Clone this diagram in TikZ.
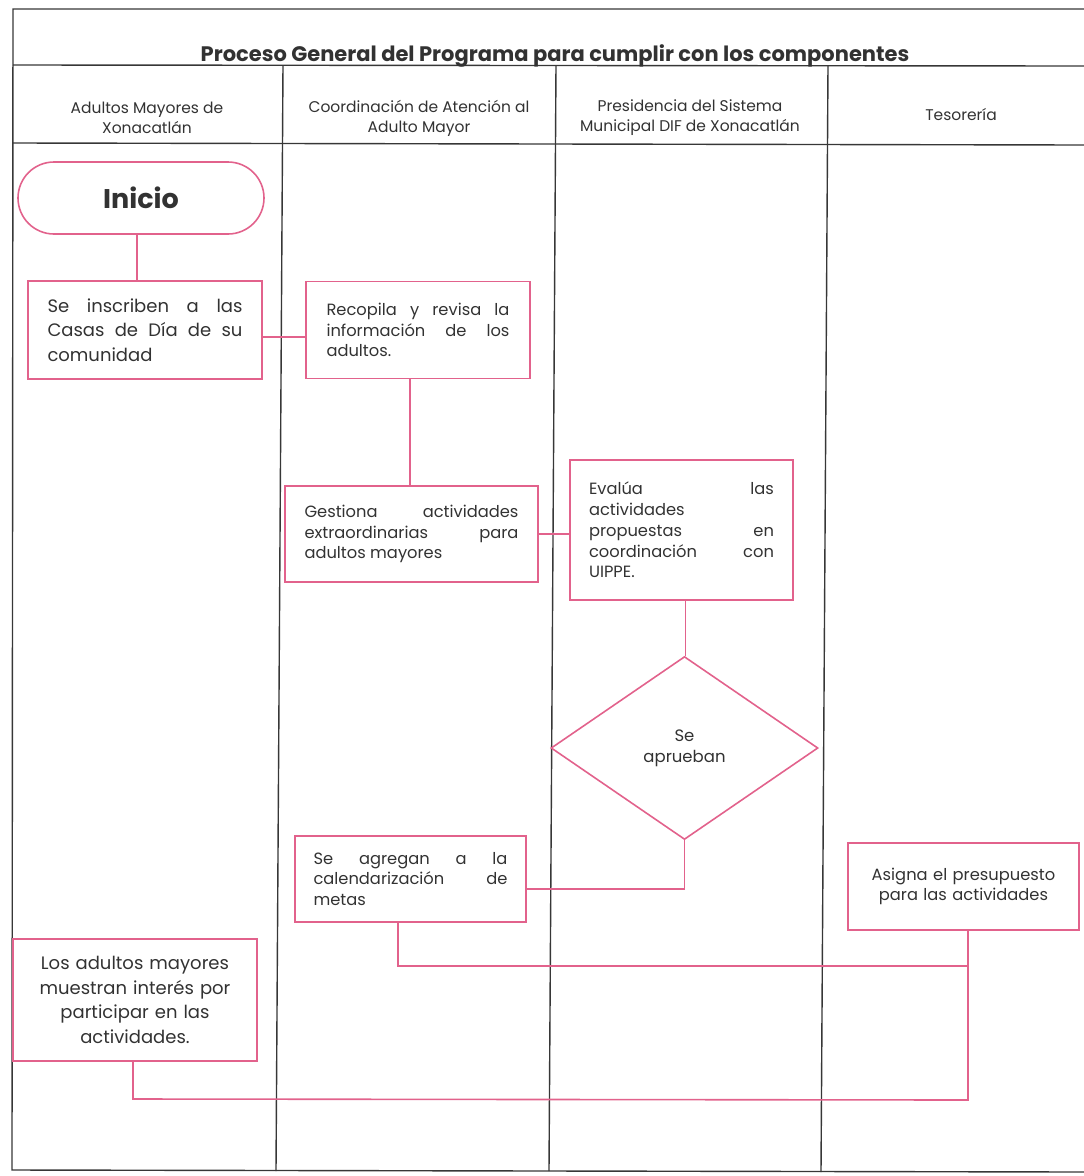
\documentclass[tikz,border=0pt]{standalone}
\usepackage{fontspec}
\setmainfont{Poppins}
\usetikzlibrary{shapes.geometric}
\definecolor{pinkline}{RGB}{226,98,140}
\definecolor{gridline}{RGB}{55,55,55}
\definecolor{txt}{RGB}{50,50,50}
\tikzset{
  lane/.style={draw=gridline, line width=1.4pt},
  flowbox/.style={draw=pinkline, line width=1.6pt, rectangle, inner sep=0pt, text=txt,
     font=\fontsize{16.3}{20.8}\selectfont},
  jbox/.style={flowbox, align=justify},
  cbox/.style={flowbox, align=center},
  conn/.style={draw=pinkline, line width=1.6pt},
  headtxt/.style={text=txt, align=center, font=\fontsize{15.5}{20}\selectfont},
}
\begin{document}
\begin{tikzpicture}[x=1pt,y=-1pt]
\useasboundingbox (0,0) rectangle (1084,1176);
% frame
\draw[lane] (1084,9) -- (13,9) -- (12,1170) -- (1084,1172);
\draw[lane] (13,65) -- (1084,66);
\draw[lane] (13,143) -- (1084,145);
\draw[lane] (283,65) -- (276,1171);
\draw[lane] (556,65) -- (549,1171);
\draw[lane] (828,66) -- (821,1172);
% title and headers
\node[text=txt, font=\bfseries\fontsize{21}{24}\selectfont] (title) at (555,56) {Proceso General del Programa para cumplir con los componentes};
\node[headtxt] (h1) at (147,118) {Adultos Mayores de\\Xonacatlán};
\node[headtxt] (h2) at (419,118) {Coordinación de Atención al\\Adulto Mayor};
\node[headtxt] (h3) at (690,118) {Presidencia del Sistema\\Municipal DIF de Xonacatlán};
\node[headtxt] (h4) at (961,115) {Tesorería};
% nodes
\node[draw=pinkline, line width=1.6pt, rounded corners=36pt, minimum width=246pt, minimum height=72pt,
      text=txt, font=\bfseries\fontsize{27}{30}\selectfont] (ini) at (141,198) {Inicio};
\node[jbox, minimum width=234pt, minimum height=98pt, text width=195pt,
      font=\fontsize{18}{24.5}\selectfont] (b1) at (145,330)
  {Se inscriben a las\linebreak Casas de Día de su\linebreak comunidad};
\node[jbox, minimum width=224pt, minimum height=97pt, text width=183pt] (b2) at (418,330)
  {Recopila y revisa la\linebreak información de los\linebreak adultos.};
\node[jbox, minimum width=253pt, minimum height=96pt, text width=214pt] (b3) at (411.5,534)
  {Gestiona actividades\linebreak extraordinarias para\linebreak adultos mayores};
\node[jbox, minimum width=223pt, minimum height=140pt, text width=185pt] (b4) at (681.5,530)
  {Evalúa las\linebreak actividades\\ propuestas en\linebreak coordinación con\linebreak UIPPE.};
\node[diamond, draw=pinkline, line width=1.6pt, inner sep=0pt, aspect=1.46, minimum width=267pt,
      minimum height=183pt, align=center, text=txt, font=\fontsize{16.5}{21}\selectfont] (dia) at (684.5,748)
  {Se\\aprueban};
\node[jbox, minimum width=231pt, minimum height=86pt, text width=194pt] (b5) at (410.5,879)
  {Se agregan a la\linebreak calendarización de\linebreak metas};
\node[cbox, minimum width=231pt, minimum height=87pt, text width=215pt] (b6) at (963.5,886.5)
  {Asigna el presupuesto\\para las actividades};
\node[cbox, minimum width=244pt, minimum height=122pt, text width=230pt,
      font=\fontsize{18}{24.5}\selectfont] (b7) at (135,1000)
  {Los adultos mayores\\muestran interés por\\participar en las\\actividades.};
% connectors
\draw[conn] ([xshift=-4pt]ini.south) -- ([xshift=-4pt]ini.south |- b1.north);
\draw[conn] ([yshift=-7pt]b1.east) -- ([yshift=-7pt]b1.east -| b2.west);
\draw[conn] ([xshift=-8pt]b2.south) -- ([xshift=-8pt]b2.south |- b3.north);
\draw[conn] (b3.east) -- (b3.east -| b4.west);
\draw[conn] ([xshift=4pt]b4.south) -- ([xshift=4pt]b4.south |- dia.north);
\coordinate (j1) at (684.5,889);
\draw[conn] (dia.south) -- (j1) -- (j1 -| b5.east);
\coordinate (j2) at (968,966);
\draw[conn] ([xshift=-12.5pt]b5.south) |- (j2);
\coordinate (j3) at (968,1100);
\coordinate (j4) at (133,1099);
\draw[conn] ([xshift=4.5pt]b6.south) -- (j2) -- (j3) -- (j4) -- (j4 |- b7.south);
\end{tikzpicture}
\end{document}
